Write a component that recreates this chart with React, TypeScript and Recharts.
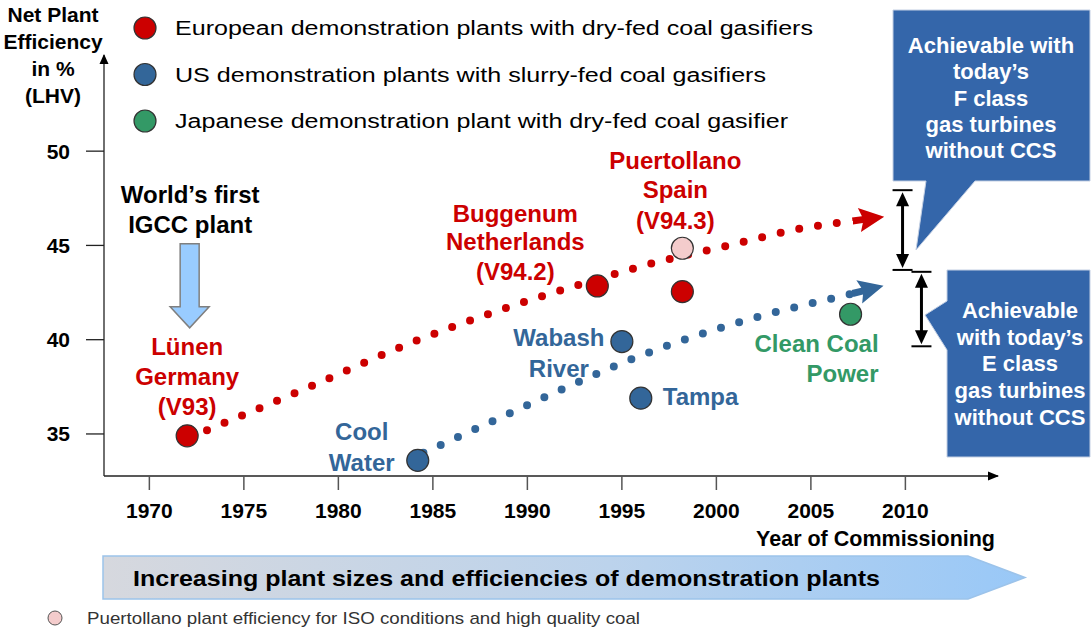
import React from 'react';
import { ComposedChart, XAxis, YAxis, Line, Scatter, ReferenceLine, ReferenceDot } from 'recharts';

const FONT = "'Liberation Sans', Arial, Helvetica, sans-serif";

// axis
const xDomain = [1967.6, 2014.9];
const yDomain = [32.77, 55.1];
const xTicks = [1970, 1975, 1980, 1985, 1990, 1995, 2000, 2005, 2010];
const yTicks = [35, 40, 45, 50];

// plants
const europeanPlants = ['Lünen', 'Buggenum', 'Puertollano'];
const europeanYears = [1972.0, 1993.7, 1998.2];
const europeanEfficiency = [34.9, 42.85, 42.55];

const usPlants = ['Cool Water', 'Wabash River', 'Tampa'];
const usYears = [1984.2, 1995.0, 1996.0];
const usEfficiency = [33.6, 39.9, 36.9];

const japanesePlants = ['Clean Coal Power'];
const japaneseYears = [2007.1];
const japaneseEfficiency = [41.35];

const isoPlants = ['Puertollano ISO'];
const isoYears = [1998.2];
const isoEfficiency = [44.85];

// trends (dotted arrows)
const europeanTrendYears = [1973.05, 1978.6, 1984.0, 1988.2, 1993.0, 1996.8, 2000.65, 2004.5, 2007.2];
const europeanTrendEff = [35.2, 37.55, 39.9, 41.45, 43.0, 44.1, 45.0, 45.9, 46.3];
const usTrendYears = [1984.5, 1988.2, 1991.8, 1995.1, 1998.9, 2002.7, 2006.6, 2007.2];
const usTrendEff = [34.0, 35.7, 37.35, 38.8, 40.2, 41.35, 42.3, 42.45];

// achievable ranges
const fClassYear = 2009.85;
const fClassRange = [43.7, 47.93];
const eClassYear = 2010.85;
const eClassRange = [39.65, 43.6];

const legendItems = [
  { label: 'European demonstration plants with dry-fed coal gasifiers', color: '#cc0000', width: 638 },
  { label: 'US demonstration plants with slurry-fed coal gasifiers', color: '#336699', width: 591 },
  { label: 'Japanese demonstration plant with dry-fed coal gasifier', color: '#339966', width: 613 },
];

// label layout relative to the point (pixels)
const labelLayout: Record<string, { lines: string[]; dx: number; dy: number[]; anchor: string }> = {
  'Lünen': { lines: ['Lünen', 'Germany', '(V93)'], dx: 0, dy: [-89, -59, -29], anchor: 'middle' },
  'Buggenum': { lines: ['Buggenum', 'Netherlands', '(V94.2)'], dx: -82, dy: [-72, -44, -14], anchor: 'middle' },
  'Puertollano': { lines: ['Puertollano', 'Spain', '(V94.3)'], dx: -7, dy: [-131, -102, -71], anchor: 'middle' },
  'Cool Water': { lines: ['Cool', 'Water'], dx: -56, dy: [-29, 2], anchor: 'middle' },
  'Wabash River': { lines: ['Wabash', 'River'], dx: -63, dy: [-4, 27], anchor: 'middle' },
  'Tampa': { lines: ['Tampa'], dx: 22, dy: [-2], anchor: 'start' },
  'Clean Coal Power': { lines: ['Clean Coal', 'Power'], dx: 28, dy: [29, 59], anchor: 'end' },
};

const toRows = (names: string[], years: number[], eff: number[]) =>
  names.map((name, i) => ({ name, year: years[i], eff: eff[i] }));
const toTrend = (years: number[], eff: number[]) => years.map((year, i) => ({ year, eff: eff[i] }));

const europeanData = toRows(europeanPlants, europeanYears, europeanEfficiency);
const usData = toRows(usPlants, usYears, usEfficiency);
const japaneseData = toRows(japanesePlants, japaneseYears, japaneseEfficiency);
const isoData = toRows(isoPlants, isoYears, isoEfficiency);
const europeanTrend = toTrend(europeanTrendYears, europeanTrendEff);
const usTrend = toTrend(usTrendYears, usTrendEff);

const plantDot = (fill: string, textColor: string) => (props: any) => {
  const { cx, cy, payload } = props;
  const lab = labelLayout[payload.name];
  return (
    <g>
      <circle cx={cx} cy={cy} r={11} fill={fill} stroke="#333" strokeWidth={1.2} />
      {lab && (
        <text fill={textColor} fontFamily={FONT} fontWeight={700} fontSize={24} textAnchor={lab.anchor}>
          {lab.lines.map((l, i) => (
            <tspan key={i} x={cx + lab.dx} y={cy + lab.dy[i] + 8.5}>{l}</tspan>
          ))}
        </text>
      )}
      {payload.name === 'Lünen' && (
        <g>
          <text fill="#000" fontFamily={FONT} fontWeight={700} fontSize={24} textAnchor="middle">
            <tspan x={cx + 3} y={cy - 241 + 8.5}>World’s first</tspan>
            <tspan x={cx + 3} y={cy - 211 + 8.5}>IGCC plant</tspan>
          </text>
          <path
            d={`M${cx - 7},${cy - 192} L${cx + 12},${cy - 192} L${cx + 12},${cy - 129} L${cx + 22},${cy - 129} L${cx + 2.5},${cy - 108} L${cx - 17},${cy - 129} L${cx - 7},${cy - 129} Z`}
            fill="#99ccff"
            stroke="#7f7f7f"
            strokeWidth={1.5}
          />
        </g>
      )}
    </g>
  );
};

const RangeArrow = (p: any) => {
  const x = p.x1;
  const top = Math.min(p.y1, p.y2);
  const bot = Math.max(p.y1, p.y2);
  return (
    <g>
      <line x1={x - 10} x2={x + 10} y1={top} y2={top} stroke="#000" strokeWidth={2} />
      <line x1={x - 10} x2={x + 10} y1={bot} y2={bot} stroke="#000" strokeWidth={2} />
      <line x1={x} x2={x} y1={top + 12} y2={bot - 12} stroke="#000" strokeWidth={3} />
      <path d={`M${x},${top + 2} L${x - 6.5},${top + 16} L${x + 6.5},${top + 16} Z`} fill="#000" />
      <path d={`M${x},${bot - 2} L${x - 6.5},${bot - 16} L${x + 6.5},${bot - 16} Z`} fill="#000" />
    </g>
  );
};

export default function App() {
  return (
    <div style={{ position: 'absolute', left: 0, top: 0, width: 1092, height: 628, background: '#fff', fontFamily: FONT }}>
      <svg width={0} height={0} style={{ position: 'absolute' }}>
        <defs>
          <marker id="redHead" markerUnits="userSpaceOnUse" markerWidth={34} markerHeight={26} viewBox="0 0 34 26" refX={0} refY={13} orient="auto">
            <path d="M0,9.5 L10,9.5 L7,1 L32,13 L7,25 L10,16.5 L0,16.5 Z" fill="#cc0000" />
          </marker>
          <marker id="blueHead" markerUnits="userSpaceOnUse" markerWidth={34} markerHeight={26} viewBox="0 0 34 26" refX={0} refY={13} orient="auto">
            <path d="M0,9.5 L10,9.5 L7,1 L32,13 L7,25 L10,16.5 L0,16.5 Z" fill="#336699" />
          </marker>
          <linearGradient id="bannerGrad" x1="0" y1="0" x2="1" y2="0">
            <stop offset="0%" stopColor="#d6d8de" />
            <stop offset="55%" stopColor="#bcd3ec" />
            <stop offset="100%" stopColor="#99c8f7" />
          </linearGradient>
        </defs>
      </svg>

      <ComposedChart width={1092} height={628} margin={{ top: 55, right: 94, bottom: 122, left: 74 }}>
        <XAxis
          type="number"
          dataKey="year"
          domain={xDomain}
          allowDataOverflow
          ticks={xTicks}
          height={30}
          tickSize={14}
          tickMargin={13}
          axisLine={{ stroke: '#222', strokeWidth: 1.3 }}
          tickLine={{ stroke: '#555', strokeWidth: 1.5 }}
          tick={{ fill: '#000', fontSize: 21, fontWeight: 700, fontFamily: FONT }}
        />
        <YAxis
          type="number"
          dataKey="eff"
          domain={yDomain}
          allowDataOverflow
          ticks={yTicks}
          width={30}
          tickSize={18}
          tickMargin={16}
          axisLine={{ stroke: '#222', strokeWidth: 1.3 }}
          tickLine={{ stroke: '#222', strokeWidth: 1.3 }}
          tick={{ fill: '#000', fontSize: 21, fontWeight: 700, fontFamily: FONT }}
        />
        <ReferenceDot
          x={xDomain[1]}
          y={yDomain[0]}
          r={0}
          ifOverflow="visible"
          shape={(p: any) => <path d={`M${p.cx + 1},${p.cy} L${p.cx - 10},${p.cy - 4.5} L${p.cx - 10},${p.cy + 4.5} Z`} fill="#000" />}
        />
        <ReferenceDot
          x={xDomain[0]}
          y={yDomain[1]}
          r={0}
          ifOverflow="visible"
          shape={(p: any) => <path d={`M${p.cx},${p.cy - 1} L${p.cx - 4.5},${p.cy + 9} L${p.cx + 4.5},${p.cy + 9} Z`} fill="#000" />}
        />
        <Scatter data={isoData} shape={plantDot('#f4cccc', '#cc0000')} isAnimationActive={false} />
        <Line
          data={europeanTrend}
          dataKey="eff"
          type="monotone"
          stroke="#cc0000"
          strokeWidth={8}
          strokeDasharray="0 19"
          strokeLinecap="round"
          dot={false}
          activeDot={false}
          markerEnd="url(#redHead)"
          isAnimationActive={false}
        />
        <Line
          data={usTrend}
          dataKey="eff"
          type="monotone"
          stroke="#336699"
          strokeWidth={8}
          strokeDasharray="0 19"
          strokeLinecap="round"
          dot={false}
          activeDot={false}
          markerEnd="url(#blueHead)"
          isAnimationActive={false}
        />
        <Scatter data={europeanData} shape={plantDot('#cc0000', '#cc0000')} isAnimationActive={false} />
        <Scatter data={usData} shape={plantDot('#336699', '#336699')} isAnimationActive={false} />
        <Scatter data={japaneseData} shape={plantDot('#339966', '#339966')} isAnimationActive={false} />
        <ReferenceLine
          segment={[{ x: fClassYear, y: fClassRange[0] }, { x: fClassYear, y: fClassRange[1] }]}
          ifOverflow="visible"
          shape={(p: any) => <RangeArrow {...p} />}
        />
        <ReferenceLine
          segment={[{ x: eClassYear, y: eClassRange[0] }, { x: eClassYear, y: eClassRange[1] }]}
          ifOverflow="visible"
          shape={(p: any) => <RangeArrow {...p} />}
        />
      </ComposedChart>

      <svg width={1092} height={628} style={{ position: 'absolute', left: 0, top: 0, pointerEvents: 'none' }}>
        {/* y axis title */}
        <text fontFamily={FONT} fontWeight={700} fontSize={21} fill="#000" textAnchor="middle">
          {['Net Plant', 'Efficiency', 'in %', '(LHV)'].map((l, i) => (
            <tspan key={i} x={53} y={22 + i * 27}>{l}</tspan>
          ))}
        </text>

        {/* legend */}
        {legendItems.map((it, i) => (
          <g key={i}>
            <circle cx={145} cy={28 + i * 46.5} r={11} fill={it.color} stroke="#333" strokeWidth={1.2} />
            <text x={175} y={35 + i * 46.5} fontFamily={FONT} fontSize={20} fill="#000" textLength={it.width} lengthAdjust="spacingAndGlyphs">
              {it.label}
            </text>
          </g>
        ))}

        {/* x axis title */}
        <text x={995} y={546} textAnchor="end" fontFamily={FONT} fontWeight={700} fontSize={21.5} fill="#000">
          Year of Commissioning
        </text>

        {/* banner */}
        <polygon points="103,556 968,556 1025,577.5 968,599 103,599" fill="url(#bannerGrad)" stroke="#9cc3ea" strokeWidth={1.5} />
        <text x={133} y={586} fontFamily={FONT} fontWeight={700} fontSize={22} fill="#000" textLength={747} lengthAdjust="spacingAndGlyphs">
          Increasing plant sizes and efficiencies of demonstration plants
        </text>

        {/* footnote */}
        <circle cx={55} cy={618} r={7} fill="#f4cccc" stroke="#555" strokeWidth={1} />
        <text x={87} y={624} fontFamily={FONT} fontSize={17} fill="#333" textLength={553} lengthAdjust="spacingAndGlyphs">
          Puertollano plant efficiency for ISO conditions and high quality coal
        </text>

        {/* callouts */}
        <polygon points="893,10 1090,10 1090,181 975,181 916,250 926,181 893,181" fill="#3466aa" stroke="#c3cfe3" strokeWidth={1} />
        <text fontFamily={FONT} fontWeight={700} fontSize={22} fill="#fff" textAnchor="middle">
          {['Achievable with', 'today’s', 'F class', 'gas turbines', 'without CCS'].map((l, i) => (
            <tspan key={i} x={991} y={53 + i * 26.3}>{l}</tspan>
          ))}
        </text>
        <polygon points="947,270 1090,270 1090,457 947,457 947,350 925,315 947,301" fill="#3466aa" stroke="#c3cfe3" strokeWidth={1} />
        <text fontFamily={FONT} fontWeight={700} fontSize={22} fill="#fff" textAnchor="middle">
          {['Achievable', 'with today’s', 'E class', 'gas turbines', 'without CCS'].map((l, i) => (
            <tspan key={i} x={1020} y={318 + i * 26.7}>{l}</tspan>
          ))}
        </text>
      </svg>
    </div>
  );
}
